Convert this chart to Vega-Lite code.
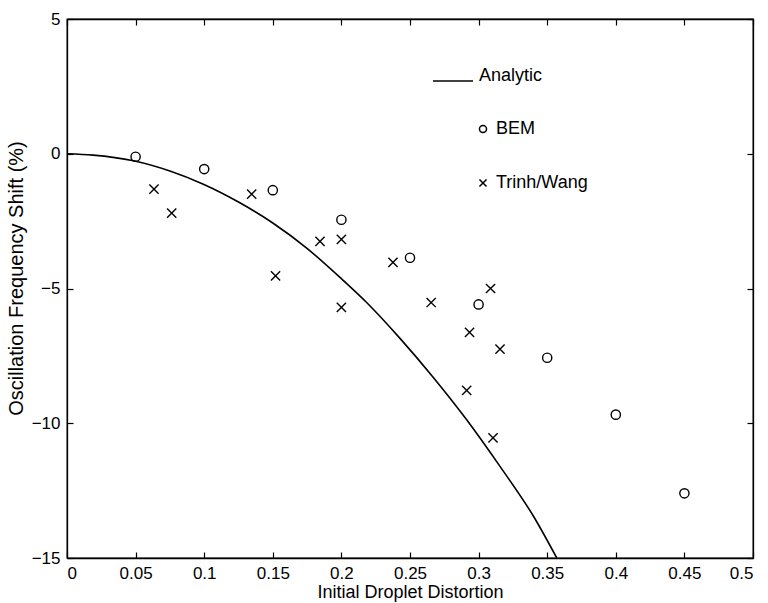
{
  "$schema": "https://vega.github.io/schema/vega-lite/v6.json",
  "width": 686,
  "height": 539,
  "autosize": "none",
  "padding": {"left": 67, "top": 19, "right": 15, "bottom": 45},
  "background": "white",
  "datasets": {
    "analytic": [
      {"series": "Analytic", "d": 0, "shift": 0},
      {"series": "Analytic", "d": 0.019, "shift": -0.05},
      {"series": "Analytic", "d": 0.0484, "shift": -0.26},
      {"series": "Analytic", "d": 0.075, "shift": -0.64},
      {"series": "Analytic", "d": 0.0994, "shift": -1.13},
      {"series": "Analytic", "d": 0.126, "shift": -1.82},
      {"series": "Analytic", "d": 0.15, "shift": -2.57},
      {"series": "Analytic", "d": 0.1747, "shift": -3.5},
      {"series": "Analytic", "d": 0.199, "shift": -4.59},
      {"series": "Analytic", "d": 0.2184, "shift": -5.52},
      {"series": "Analytic", "d": 0.2427, "shift": -6.85},
      {"series": "Analytic", "d": 0.267, "shift": -8.3},
      {"series": "Analytic", "d": 0.2913, "shift": -9.87},
      {"series": "Analytic", "d": 0.3156, "shift": -11.6},
      {"series": "Analytic", "d": 0.34, "shift": -13.45},
      {"series": "Analytic", "d": 0.357, "shift": -15.0}
    ],
    "points": [
      {"series": "BEM", "d": 0.05, "shift": -0.11},
      {"series": "BEM", "d": 0.1, "shift": -0.57},
      {"series": "BEM", "d": 0.15, "shift": -1.35},
      {"series": "BEM", "d": 0.2, "shift": -2.45},
      {"series": "BEM", "d": 0.25, "shift": -3.86},
      {"series": "BEM", "d": 0.3, "shift": -5.59},
      {"series": "BEM", "d": 0.35, "shift": -7.57},
      {"series": "BEM", "d": 0.4, "shift": -9.68},
      {"series": "BEM", "d": 0.45, "shift": -12.6},
      {"series": "Trinh/Wang", "d": 0.0634, "shift": -1.31},
      {"series": "Trinh/Wang", "d": 0.0763, "shift": -2.2},
      {"series": "Trinh/Wang", "d": 0.1346, "shift": -1.5},
      {"series": "Trinh/Wang", "d": 0.152, "shift": -4.53},
      {"series": "Trinh/Wang", "d": 0.1844, "shift": -3.25},
      {"series": "Trinh/Wang", "d": 0.2, "shift": -3.18},
      {"series": "Trinh/Wang", "d": 0.2, "shift": -5.7},
      {"series": "Trinh/Wang", "d": 0.2376, "shift": -4.03},
      {"series": "Trinh/Wang", "d": 0.2654, "shift": -5.52},
      {"series": "Trinh/Wang", "d": 0.2913, "shift": -8.78},
      {"series": "Trinh/Wang", "d": 0.2934, "shift": -6.63},
      {"series": "Trinh/Wang", "d": 0.3087, "shift": -5.0},
      {"series": "Trinh/Wang", "d": 0.3105, "shift": -10.54},
      {"series": "Trinh/Wang", "d": 0.3156, "shift": -7.25}
    ]
  },
  "layer": [
    {
      "layer": [
        {
          "data": {"name": "analytic"},
          "mark": {"type": "line", "strokeWidth": 1.6, "interpolate": "monotone", "clip": true},
          "encoding": {
            "x": {"field": "d", "type": "quantitative"},
            "y": {"field": "shift", "type": "quantitative"},
            "color": {
              "field": "series",
              "type": "nominal",
              "scale": {"domain": ["Analytic"], "range": ["black"]},
              "legend": {
                "title": null,
                "orient": "none",
                "legendX": 365,
                "legendY": 41,
                "symbolType": "stroke",
                "symbolSize": 1600,
                "symbolStrokeWidth": 1.5,
                "labelFont": "Liberation Sans",
                "labelFontSize": 18,
                "labelColor": "black",
                "labelOffset": 5,
                "labelBaseline": "alphabetic"
              }
            }
          }
        },
        {
          "data": {"name": "points"},
          "mark": {"type": "point", "filled": false, "color": "black", "strokeWidth": 1.4, "size": 85, "opacity": 1},
          "encoding": {
            "x": {"field": "d", "type": "quantitative"},
            "y": {"field": "shift", "type": "quantitative"},
            "shape": {
              "field": "series",
              "type": "nominal",
              "scale": {
                "domain": ["BEM", "Trinh/Wang"],
                "range": ["circle", "M-1,-1L1,1M-1,1L1,-1"]
              },
              "legend": {
                "title": null,
                "orient": "none",
                "legendX": 407,
                "legendY": 101,
                "symbolSize": 50,
                "symbolStrokeColor": "black",
                "symbolFillColor": "transparent",
                "symbolStrokeWidth": 1.5,
                "labelFont": "Liberation Sans",
                "labelFontSize": 18,
                "labelColor": "black",
                "labelOffset": 4,
                "rowPadding": 36
              }
            }
          }
        }
      ],
      "encoding": {
        "x": {
          "field": "d",
          "type": "quantitative",
          "scale": {"domain": [0, 0.5], "nice": false, "zero": false},
          "axis": {
            "title": "Initial Droplet Distortion",
            "values": [0, 0.05, 0.1, 0.15, 0.2, 0.25, 0.3, 0.35, 0.4, 0.45, 0.5],
            "format": "~g",
            "grid": false,
            "tickSize": -6,
            "labelPadding": 13,
            "titleFontSize": 18,
            "titlePadding": 2
          }
        },
        "y": {
          "field": "shift",
          "type": "quantitative",
          "scale": {"domain": [-15, 5], "nice": false, "zero": false},
          "axis": {
            "title": "Oscillation Frequency Shift (%)",
            "values": [-15, -10, -5, 0, 5],
            "grid": false,
            "tickSize": -6,
            "labelPadding": 13,
            "titleFontSize": 20,
            "titleY": 259,
            "titlePadding": 5
          }
        }
      }
    },
    {
      "data": {"name": "points"},
      "mark": {"type": "point", "opacity": 0},
      "encoding": {
        "x": {
          "field": "d",
          "type": "quantitative",
          "axis": {
            "orient": "top",
            "title": null,
            "labels": false,
            "values": [0, 0.05, 0.1, 0.15, 0.2, 0.25, 0.3, 0.35, 0.4, 0.45, 0.5],
            "grid": false,
            "tickSize": -6
          }
        },
        "y": {
          "field": "shift",
          "type": "quantitative",
          "axis": {
            "orient": "right",
            "title": null,
            "labels": false,
            "values": [-15, -10, -5, 0, 5],
            "grid": false,
            "tickSize": -6
          }
        }
      }
    }
  ],
  "resolve": {"axis": {"x": "independent", "y": "independent"}},
  "config": {
    "font": "Liberation Sans",
    "view": {"stroke": "black", "strokeWidth": 1.3},
    "axis": {
      "domainColor": "black",
      "domainWidth": 1.3,
      "tickColor": "black",
      "tickWidth": 1.2,
      "labelColor": "black",
      "labelFont": "Liberation Sans",
      "labelFontSize": 17,
      "titleColor": "black",
      "titleFont": "Liberation Sans",
      "titleFontWeight": "normal"
    }
  }
}
